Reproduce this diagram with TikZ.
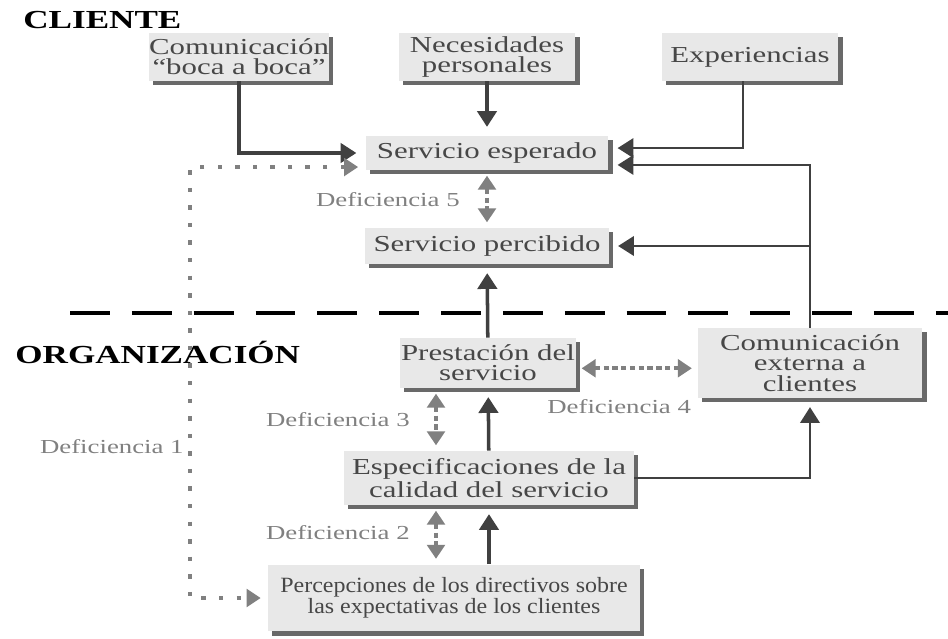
\documentclass[tikz,border=0pt]{standalone}
\usepackage{fontspec}
\setmainfont[FakeStretch=1.35]{Liberation Serif}
\newfontfamily\narrowserif[FakeStretch=1.1]{Liberation Serif}
\usetikzlibrary{shapes,arrows.meta,shadows}
\definecolor{boxfill}{RGB}{232,232,232}
\definecolor{boxshade}{RGB}{105,105,105}
\definecolor{linedark}{RGB}{64,64,64}
\definecolor{gapgray}{RGB}{128,128,128}
\tikzstyle{block} = [rectangle, fill=boxfill, text=black!72, align=center, inner sep=0pt,
    font=\fontsize{13}{11.5}\selectfont,
    drop shadow={shadow xshift=2.4pt, shadow yshift=-2.4pt, fill=boxshade, opacity=1}]
\tikzstyle{line} = [draw, linedark, line width=2pt, shorten >=5pt, -{Triangle[width=11pt,length=9pt]}]
\tikzstyle{thin line} = [line, line width=1.5pt]
\tikzstyle{gap} = [draw, gapgray, line width=2.4pt, dash pattern=on 3pt off 2pt, shorten >=3pt, shorten <=3pt,
    {Triangle[width=10pt,length=8pt]}-{Triangle[width=10pt,length=8pt]}]
\tikzstyle{gap dots} = [draw, gapgray, line width=2.4pt, dash pattern=on 2.5pt off 7.5pt, shorten >=4pt, shorten <=4pt,
    {Triangle[width=10pt,length=8pt]}-{Triangle[width=10pt,length=8pt]}]
\tikzstyle{deflabel} = [text=gapgray, inner sep=0pt, font=\fontsize{11.3}{12}\selectfont]
\tikzstyle{region} = [inner sep=0pt, font=\fontsize{14.8}{16}\selectfont\bfseries]

\begin{document}
\begin{tikzpicture}[x=0.02cm, y=-0.02cm]
	\useasboundingbox (0,0) rectangle (948,639);

	\node [region, anchor=west] (cliente) at (23,20) {CLIENTE};
	\node [region, anchor=west] (organizacion) at (15,352) {ORGANIZACIÓN};

	\draw [black, line width=2.3pt, dash pattern=on 22.7pt off 12.5pt] (70,313) -- (948,313);

	\node [block, minimum width=3.56cm, minimum height=0.96cm] (wordofmouth) at (239,57) {Comunicación\\“boca a boca”};
	\node [block, minimum width=3.54cm, minimum height=0.96cm] (needs) at (487,57) {Necesidades\\personales};
	\node [block, minimum width=3.54cm, minimum height=0.96cm] (experience) at (750,57) {Experiencias};

	\node [block, minimum width=4.86cm, minimum height=0.68cm] (expected) at (487,153) {Servicio esperado};
	\node [block, minimum width=4.88cm, minimum height=0.72cm] (perceived) at (487,246) {Servicio percibido};

	\node [block, minimum width=3.52cm, minimum height=1.0cm] (delivery) at (488,363) {Prestación del\\servicio};
	\node [block, minimum width=4.5cm, minimum height=1.4cm] (external) at (810,363) {Comunicación\\externa a\\clientes};
	\node [block, minimum width=5.8cm, minimum height=1.08cm] (specs) at (489,478) {Especificaciones de la\\calidad del servicio};
	\node [block, minimum width=7.44cm, minimum height=1.34cm, font=\narrowserif\fontsize{12.4}{12}\selectfont] (perceptions) at (454,598)
		{Percepciones de los directivos sobre\\las expectativas de los clientes};

	\node [deflabel, anchor=east] (gapfive) at (460,200) {Deficiencia 5};
	\node [deflabel, anchor=east] (gapthree) at (410,420) {Deficiencia 3};
	\node [deflabel, anchor=east] (gaptwo) at (410,533) {Deficiencia 2};
	\node [deflabel, anchor=west] (gapfour) at (547,407) {Deficiencia 4};
	\node [deflabel, anchor=east] (gapone) at (184,447) {Deficiencia 1};

	\coordinate (gapx) at (436,0);
	\coordinate (gapcorner) at (190,400);

	% client side
	\path [line] (wordofmouth.south) |- (expected.west);
	\path [line] (needs) -- (expected);
	\path [thin line] ([xshift=-4pt]experience.south) |- ([yshift=2.8pt]expected.east);
	\path [thin line] (external.north) |- ([yshift=-6.8pt]expected.east);
	\path [thin line] (external.north |- perceived.east) -- (perceived.east);

	% organization side
	\path [line] (delivery) -- (perceived);
	\path [line] (specs) -- (delivery);
	\path [line] (specs.south |- perceptions.north) -- (specs.south);
	\path [thin line] (specs.east) -| (external.south);

	% gaps
	\path [gap] (expected) -- (perceived);
	\path [gap] (delivery.south -| gapx) -- (specs.north -| gapx);
	\path [gap] (specs.south -| gapx) -- (perceptions.north -| gapx);
	\path [gap] ([yshift=-3pt]delivery.east) -- ([yshift=-3pt]delivery.east -| external.west);
	\path [gap dots] ([yshift=-8pt]expected.west) -| (gapcorner) |- (perceptions.west);
\end{tikzpicture}
\end{document}
